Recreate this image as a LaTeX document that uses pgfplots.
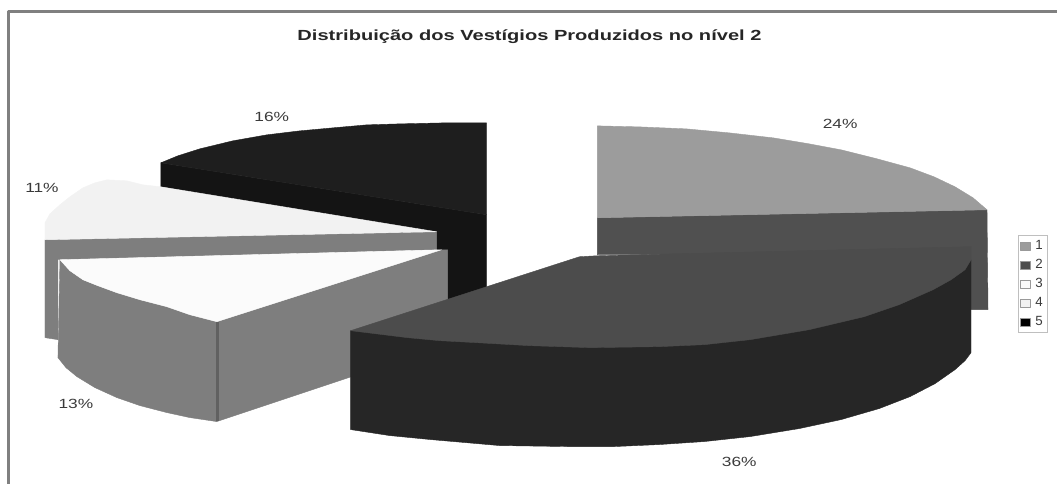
\documentclass[border=0pt]{standalone}
\usepackage{fontspec}
\setmainfont{Liberation Sans}
\usepackage{pgfplots}
\pgfplotsset{compat=1.18}
\definecolor{sliceA}{HTML}{9C9C9C}
\definecolor{sideA}{HTML}{505050}
\definecolor{sliceB}{HTML}{4C4C4C}
\definecolor{sideB}{HTML}{262626}
\definecolor{sliceC}{HTML}{FBFBFB}
\definecolor{sideC}{HTML}{7E7E7E}
\definecolor{sliceD}{HTML}{F2F2F2}
\definecolor{sliceE}{HTML}{1E1E1E}
\definecolor{sideE}{HTML}{141414}
\definecolor{txt}{HTML}{3A3A3A}
\tikzset{pct/.style={font=\fontsize{10}{11}\selectfont,text=txt,xscale=1.3}}
\begin{document}
\begin{tikzpicture}
\begin{axis}[
    scale only axis,
    width=793.5pt,
    height=363pt,
    xmin=0, xmax=1058,
    ymin=0, ymax=484,
    y dir=reverse,
    hide axis,
    clip=false,
    legend image code/.code={\draw[#1] (0pt,-3pt) rectangle (7pt,3pt);},
    legend style={at={(axis cs:1034,284.5)},anchor=center,draw=black!25,line width=1pt,
        font=\fontsize{10}{10}\selectfont\color{txt},inner sep=1.6pt,row sep=1.9pt,
        /tikz/every odd column/.append style={column sep=2pt}},
    every axis plot/.append style={forget plot,line join=round,line width=0.3pt},
]
\path (axis cs:0,0) rectangle (axis cs:1058,484);
% frame
\addplot[draw=black!50,line width=1.6pt] coordinates {(8.5,484)(8.5,11.5)(1058,11.5)};
% slice 1
\addplot[fill=sideA,draw=sideA] coordinates {(598,218)(988,210)(989,310)(965,310)(965,255)(598,255)} -- cycle;
\addplot[fill=sliceA,draw=sliceA] coordinates {(598,126)(640,127)(687,129)(730,133)(774,138)(810,144)(842,150)(878,159)(911,168)(935,177)(956,187)(974,198)(988,210)(598,218)} -- cycle;
% slice 5
\addplot[fill=sideE,draw=sideE] coordinates {(161,163)(487,215)(487,295)(430,310)(430,238)(161,187)} -- cycle;
\addplot[fill=sliceE,draw=sliceE] coordinates {(161,163)(178,156)(200,149)(233,141)(267,135)(300,131)(333,128)(367,125)(400,124)(445,123)(487,123)(487,215)} -- cycle;
% slice 4
\addplot[fill=sideC,draw=sideC] coordinates {(45,240)(437,232)(437,250)(58,260)(58,340)(45,338)} -- cycle;
\addplot[fill=sliceD,draw=sliceD] coordinates {(161,187)(143,185)(127,181)(107,180)(95,183)(83,188)(70,197)(60,205)(50,214)(45,223)(45,240)(437,232)} -- cycle;
% slice 3
\addplot[fill=sideC,draw=sideC] coordinates {(217,322)(442,250)(448,250)(448,345)(217,422)} -- cycle;
\addplot[fill=sideC,draw=sideC] coordinates {(60,260)(70,271)(83,280)(98,286)(117,293)(140,300)(167,307)(190,315)(217,322)(217,422)(190,418)(167,413)(140,406)(117,398)(95,388)(77,377)(66,368)(58,358)} -- cycle;
\addplot[draw=black!62,line width=2.5pt] coordinates {(218,322)(218,421)};
\addplot[fill=sliceC,draw=sliceC] coordinates {(60,260)(442,250)(217,322)(190,315)(167,307)(140,300)(117,293)(98,286)(83,280)(70,271)} -- cycle;
% slice 2
\addplot[fill=sideB,draw=sideB] coordinates {(351,331)(351,430)(390,436)(431,440)(500,446)(568,447)(615,447)(660,445)(705,442)(751,437)(800,429)(842,420)(880,409)(911,397)(936,384)(956,370)(966,361)(972,353)(972,260)} -- cycle;
\addplot[fill=sliceB,draw=sliceB] coordinates {(580,257)(598,256)(972,247)(972,260)(966,270)(952,280)(934,290)(900,305)(865,317)(810,330)(751,340)(705,345)(660,347)(591,348)(530,346)(477,343)(440,341)(408,338)(351,331)} -- cycle;
% legend
\addlegendimage{fill=sliceA,draw=black!40,line width=0.3pt}
\addlegendimage{fill=sliceB,draw=black!40,line width=0.3pt}
\addlegendimage{fill=sliceC,draw=black!40,line width=0.3pt}
\addlegendimage{fill=sliceD,draw=black!40,line width=0.3pt}
\addlegendimage{fill=black,draw=black!40,line width=0.3pt}
\legend{1,2,3,4,5}
% title and labels
\node[font=\bfseries\fontsize{11}{12}\selectfont,text=black!85,xscale=1.37] at (axis cs:530,37) {Distribuição dos Vestígios Produzidos no nível 2};
\node[pct] at (axis cs:841,124) {24\%};
\node[pct] at (axis cs:740,462) {36\%};
\node[pct] at (axis cs:76,404) {13\%};
\node[pct] at (axis cs:42,188) {11\%};
\node[pct] at (axis cs:272,117) {16\%};
\end{axis}
\end{tikzpicture}
\end{document}
